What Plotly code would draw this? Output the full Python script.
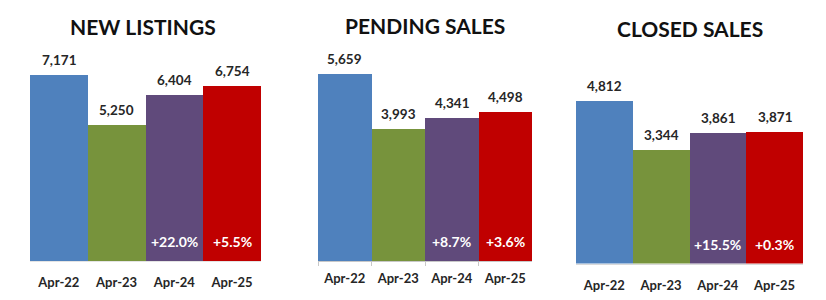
import plotly.graph_objects as go

W, H = 826, 300

categories = ["Apr-22", "Apr-23", "Apr-24", "Apr-25"]
titles = ["NEW LISTINGS", "PENDING SALES", "CLOSED SALES"]
new_listings = [7171, 5250, 6404, 6754]
pending_sales = [5659, 3993, 4341, 4498]
closed_sales = [4812, 3344, 3861, 3871]
new_listings_pct = ["", "", "+22.0%", "+5.5%"]
pending_sales_pct = ["", "", "+8.7%", "+3.6%"]
closed_sales_pct = ["", "", "+15.5%", "+0.3%"]

series = [new_listings, pending_sales, closed_sales]
pcts = [new_listings_pct, pending_sales_pct, closed_sales_pct]
colors = ["#4F81BD", "#77933C", "#604A7B", "#C00000"]

# layout geometry (pixels)
panels = [
    dict(x0=30, x1=261, base=261, top=40, ymax=8520, line="#e4e4e4", ticks=False, standoff=9),
    dict(x0=318, x1=532, base=261, top=40, ymax=6688, line="#c8c8c8", ticks=True, standoff=5),
    dict(x0=576, x1=803, base=263.5, top=40, ymax=6598, line="#d9d9d9", ticks=False, standoff=10),
]
title_centers = [143, 425, 690]
title_y = [27, 25, 28]

FONT = "Lato"
fig = go.Figure()
annotations = []
for i, (vals, pc, p) in enumerate(zip(series, pcts, panels)):
    n = "" if i == 0 else str(i + 1)
    fig.add_trace(go.Bar(
        x=categories, y=vals, marker=dict(color=colors, line=dict(width=0)),
        xaxis="x" + n, yaxis="y" + n, showlegend=False, hoverinfo="x+y",
    ))
    fig.update_layout(**{
        "xaxis" + n: dict(
            domain=[p["x0"] / W, p["x1"] / W], anchor="y" + n,
            range=[-0.5, 3.5], showline=True, linecolor=p["line"], linewidth=1,
            ticks="outside" if p["ticks"] else "", tickson="boundaries",
            ticklen=4, tickcolor=p["line"], showgrid=False,
            ticklabelstandoff=p["standoff"],
            tickfont=dict(family=FONT, size=13, color="#262626", weight="bold"),
            fixedrange=True,
        ),
        "yaxis" + n: dict(
            domain=[(H - p["base"]) / H, (H - p["top"]) / H], anchor="x" + n,
            range=[0, p["ymax"]], visible=False, showgrid=False, fixedrange=True,
        ),
    })
    for c, v, t in zip(categories, vals, pc):
        annotations.append(dict(
            x=c, y=v, xref="x" + n, yref="y" + n, text=f"{v:,}",
            showarrow=False, yanchor="bottom", yshift=5,
            font=dict(family=FONT, size=13.5, color="#262626", weight="bold"),
        ))
        if t:
            annotations.append(dict(
                x=c, y=0, xref="x" + n, yref="y" + n, text=t,
                showarrow=False, yanchor="bottom", yshift=9,
                font=dict(family=FONT, size=14, color="white", weight="bold"),
            ))
    annotations.append(dict(
        x=title_centers[i] / W, y=(H - title_y[i]) / H, xref="paper", yref="paper",
        xanchor="center", yanchor="middle",
        text=titles[i], showarrow=False,
        font=dict(family=FONT, size=21, color="#111111", weight="bold"),
    ))

fig.update_layout(
    width=W, height=H, margin=dict(l=0, r=0, t=0, b=0),
    paper_bgcolor="white", plot_bgcolor="white",
    bargap=0, annotations=annotations,
)
fig.write_html("out.html")
